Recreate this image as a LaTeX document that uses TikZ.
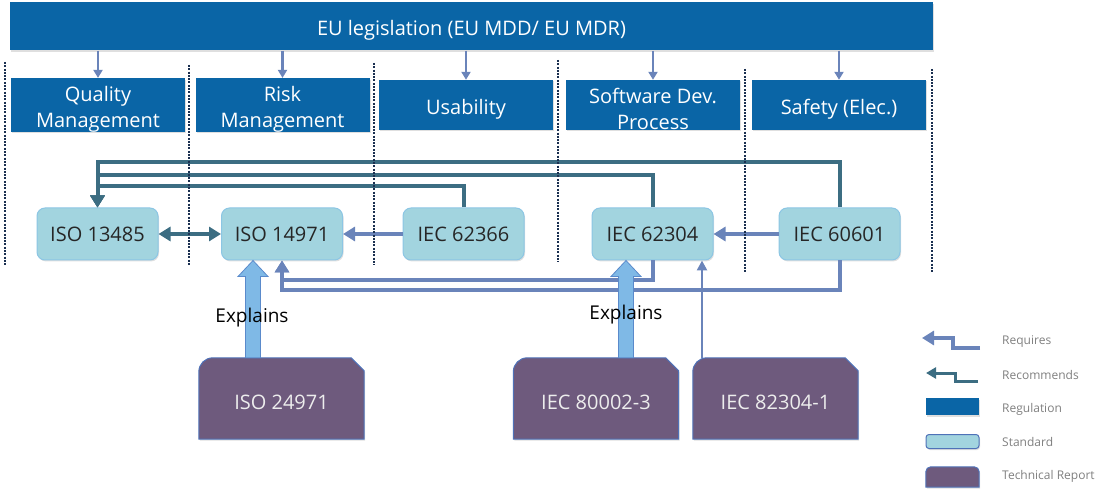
\documentclass[tikz,border=0pt]{standalone}
\usepackage{fontspec}
\setmainfont{Open Sans}
\usetikzlibrary{arrows.meta,calc,backgrounds,shadows}
\definecolor{regblue}{HTML}{0A65A6}
\definecolor{stdfill}{HTML}{A2D4DF}
\definecolor{stdline}{HTML}{8CC6E4}
\definecolor{trfill}{HTML}{6E5A7D}
\definecolor{trline}{HTML}{4F72B8}
\definecolor{reqcol}{HTML}{6A84BA}
\definecolor{reccol}{HTML}{3C6D82}
\definecolor{expfill}{HTML}{7FB9E6}
\definecolor{expline}{HTML}{5A8ACB}
\definecolor{sepcol}{HTML}{1A2F50}
\definecolor{legtext}{HTML}{7F7F7F}
\newcommand\lowstrut{\rule{0pt}{23pt}}
\begin{document}
\begin{tikzpicture}[x=1pt,y=-1pt,>={Triangle[width=14pt,length=12pt]},
    big/.style={font=\fontsize{20}{26}\selectfont,align=center,inner sep=0pt},
    lowtext/.style={execute at begin node={\lowstrut}},
    shade/.style={drop shadow={shadow xshift=1pt,shadow yshift=-1.5pt,opacity=.25}},
    regbox/.style={big,lowtext,fill=regblue,text=white,shade},
    catbox/.style={regbox,minimum width=174pt,minimum height=50pt},
    stdbox/.style={big,draw=stdline,line width=1pt,fill=stdfill,rounded corners=8pt,text=black!85,minimum width=121pt,minimum height=52pt,shade},
    trbox/.style={big,lowtext,text=white!93!black,minimum width=165pt,minimum height=81pt},
    trshape/.style={draw=trline,line width=1pt,fill=trfill,shade},
    req/.style={draw=reqcol,line width=4pt,->},
    reqthin/.style={draw=reqcol,line width=2.2pt,-{Triangle[width=9pt,length=8pt]}},
    rec/.style={draw=reccol,line width=4pt,->},
    sep/.style={draw=sepcol,line width=2.2pt,dash pattern=on 2pt off 1.3pt},
    legtxt/.style={anchor=west,text=legtext,font=\fontsize{12}{14}\selectfont,inner sep=0pt},
    explains/.style={draw=expline,fill=expfill,line width=.8pt,
      to path={($(\tikztostart)+(-7.5,0)$) -- ($(\tikztotarget)+(-7.5,16)$) -- ($(\tikztotarget)+(-15,16)$) -- (\tikztotarget)
        -- ($(\tikztotarget)+(15,16)$) -- ($(\tikztotarget)+(7.5,16)$) -- ($(\tikztostart)+(7.5,0)$) -- cycle}}]
\useasboundingbox (0,0) rectangle (1111,494);
% regulation and topics
\node[regbox,minimum width=923pt,minimum height=48pt] (eu) at (471.5,26.5) {EU legislation (EU MDD/ EU MDR)};
\node[catbox] (qm) at (98,105) {\lowstrut Quality\\Management};
\node[catbox] (rm) at (282.5,105) {\lowstrut Risk\\Management};
\node[catbox] (us) at (466,105) {Usability};
\node[catbox] (sw) at (653,105) {\lowstrut Software Dev.\\Process};
\node[catbox] (sf) at (839,105) {Safety (Elec.)};
\foreach \c in {qm,rm,us,sw,sf} \draw[reqthin] (eu.south -| \c.north) -- (\c.north);
% standards
\node[stdbox] (iso13485) at (97.5,234) {ISO 13485};
\node[stdbox] (iso14971) at (282,234) {ISO 14971};
\node[stdbox] (iec62366) at (463.5,234) {IEC 62366};
\node[stdbox] (iec62304) at (652.5,234) {IEC 62304};
\node[stdbox] (iec60601) at (839.5,234) {IEC 60601};
\coordinate (recA) at (0,186); \coordinate (recB) at (0,175); \coordinate (recC) at (0,162);
\draw[rec] (iec62366.north) |- (recA -| iso13485.north) -- (iso13485.north);
\draw[rec] (iec62304.north) |- (recB -| iso13485.north) -- (iso13485.north);
\draw[rec] (iec60601.north) |- (recC -| iso13485.north) -- (iso13485.north);
\draw[rec,<->] (iso13485) -- (iso14971);
\draw[req] (iec62366) -- (iso14971);
\draw[req] (iec60601) -- (iec62304);
\coordinate (busA) at (0,280); \coordinate (busB) at (0,290);
\draw[req] (iec62304.south) |- (busA -| iso14971.south) -- (iso14971.south);
\draw[req] (iec60601.south) |- (busB -| iso14971.south) -- (iso14971.south);
% technical reports
\node[trbox] (iso24971) at (281.5,398.5) {ISO 24971};
\node[trbox] (iec800023) at (596,398.5) {IEC 80002-3};
\node[trbox] (iec823041) at (775.5,398.5) {IEC 82304-1};
\begin{scope}[on background layer]
\foreach \n in {iso24971,iec800023,iec823041}
  \draw[trshape] (\n.south west) -- ([yshift=-14pt]\n.north west) arc[start angle=180,end angle=90,radius=14pt]
    -- ([xshift=-13pt]\n.north east) -- ([yshift=-13pt]\n.north east) -- (\n.south east) -- cycle;
\end{scope}
\coordinate (ex1) at ([xshift=-28.5pt]iso24971.north);
\coordinate (ex2) at ([xshift=30pt]iec800023.north);
\coordinate (ex3) at ([xshift=-73.5pt]iec823041.north);
\draw[explains] (ex1) to (ex1 |- iso14971.south);
\draw[explains] (ex2) to (ex2 |- iec62304.south);
\draw[reqthin,line width=2.5pt,-{Triangle[width=10pt,length=10pt]}] (ex3) -- (ex3 |- iec62304.south);
\node[big,font=\fontsize{19}{22}\selectfont] (lbl1) at (252,318) {Explains};
\node[big,font=\fontsize{19}{22}\selectfont] (lbl2) at (626,315) {Explains};
% topic separators
\foreach \x/\a/\b in {5/62/265,189/65/265,374/63/265,558/60/262,745/69/272,932/69/272}
  \draw[sep] (\x,\a) -- (\x,\b);
% legend
\coordinate (rqa) at (980,348); \coordinate (rqb) at (922,338);
\coordinate (rca) at (978,381); \coordinate (rcb) at (926,373);
\draw[req] (rqa) -- ++(-27,0) |- (rqb);
\draw[rec,line width=3pt,-{Triangle[width=11pt,length=10pt]}] (rca) -- ++(-23,0) |- (rcb);
\node[fill=regblue,minimum width=53pt,minimum height=17pt,inner sep=0pt,shade] (lgreg) at (952.5,406.5) {};
\node[draw=trline,line width=1pt,fill=stdfill,rounded corners=3pt,minimum width=53pt,minimum height=14pt,inner sep=0pt,shade] (lgstd) at (952.5,441.5) {};
\node[minimum width=53pt,minimum height=20pt,inner sep=0pt] (lgtr) at (952.5,477) {};
\draw[trshape] (lgtr.south west) -- ([yshift=-5pt]lgtr.north west) arc[start angle=180,end angle=90,radius=5pt]
  -- ([xshift=-5pt]lgtr.north east) arc[start angle=90,end angle=0,radius=5pt] -- (lgtr.south east) -- cycle;
\node[legtxt] (ltreq) at (1002,342) {Requires};
\node[legtxt] (ltrec) at (1002,375) {Recommends};
\node[legtxt] (ltreg) at (1002,409) {Regulation};
\node[legtxt] (ltstd) at (1002,442) {Standard};
\node[legtxt] (lttr) at (1002,476) {Technical Report};
\end{tikzpicture}
\end{document}
